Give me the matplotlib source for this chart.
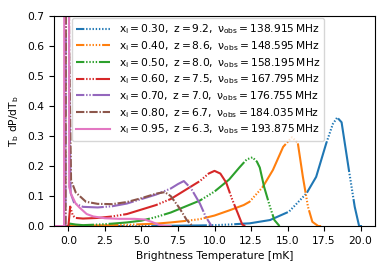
import numpy as np
import matplotlib
matplotlib.use('Agg')
from matplotlib import pyplot as plt
from matplotlib.lines import Line2D

# legend info
xi = ['0.30', '0.40', '0.50', '0.60', '0.70', '0.80', '0.95']
zz = ['9.2', '8.6', '8.0', '7.5', '7.0', '6.7', '6.3']
nu = ['138.915', '148.595', '158.195', '167.795', '176.755', '184.035', '193.875']

# curves (T_b in mK, T_b dP/dT_b)
T_030 = [0, 5, 7, 9, 10, 11, 12, 12.4, 13.8, 15.1, 16.3, 16.96, 17.65, 18.1, 18.4, 18.7, 19.2, 19.6, 19.9, 20.1]
P_030 = [0, 0, 0.001, 0.002, 0.003, 0.005, 0.008, 0.009, 0.02, 0.048, 0.109, 0.164, 0.276, 0.34, 0.362, 0.346, 0.187, 0.064, 0.0, 0.0]

T_040 = [0, 2, 4, 6, 7, 8, 9, 10, 11, 12, 12.4, 13.3, 14, 14.7, 15.3, 15.7, 16.05, 16.4, 16.7, 17.1, 17.3]
P_040 = [0, 0.002, 0.004, 0.008, 0.012, 0.017, 0.023, 0.035, 0.052, 0.07, 0.081, 0.13, 0.187, 0.264, 0.296, 0.278, 0.164, 0.064, 0.014, 0.0, 0.0]

T_050 = [-1, 0, 0.1, 0.5, 1, 2, 3, 4, 5, 6, 7, 8, 9, 10, 11, 11.7, 12.2, 12.6, 12.9, 13.1, 13.4, 13.8, 14.1, 14.45]
P_050 = [0, 0, 0.008, 0.005, 0.003, 0.005, 0.008, 0.012, 0.018, 0.03, 0.045, 0.065, 0.085, 0.115, 0.155, 0.195, 0.222, 0.229, 0.215, 0.195, 0.13, 0.064, 0.02, 0.0]

T_060 = [-1, 0, 0.12, 0.3, 0.5, 1, 2, 3, 4, 5, 6, 7, 8, 9, 9.6, 10, 10.4, 10.8, 11.2, 11.6, 11.9, 12.1]
P_060 = [0, 0, 0.065, 0.035, 0.027, 0.025, 0.027, 0.032, 0.04, 0.055, 0.07, 0.09, 0.12, 0.15, 0.175, 0.184, 0.175, 0.145, 0.09, 0.042, 0.005, 0.0]

T_070 = [-1, -0.2, -0.1, 0.05, 0.15, 0.4, 1, 2, 3, 4, 5, 6, 7, 7.5, 7.9, 8.4, 9.0, 9.4, 9.8]
P_070 = [0, 0, 3.0, 0.5, 0.11, 0.076, 0.064, 0.062, 0.066, 0.075, 0.09, 0.105, 0.125, 0.14, 0.15, 0.125, 0.075, 0.031, 0.0]

T_080 = [-1, -0.2, -0.1, 0.05, 0.18, 0.5, 1.2, 2, 3, 4, 5, 6, 6.6, 7.0, 7.6, 8.1, 8.5]
P_080 = [0, 0, 3.0, 0.6, 0.153, 0.112, 0.081, 0.074, 0.073, 0.08, 0.093, 0.108, 0.113, 0.1, 0.06, 0.02, 0.0]

T_095 = [-1, -0.3, -0.25, 0.0, 0.05, 0.2, 0.5, 0.75, 1.25, 1.7, 2.5, 3.5, 4.5, 5.2, 5.7, 6.2, 6.6, 7.0]
P_095 = [0, 0, 3.0, 3.0, 0.13, 0.105, 0.075, 0.062, 0.04, 0.032, 0.026, 0.024, 0.024, 0.022, 0.014, 0.004, 0.001, 0.0]

curves = [(T_030, P_030), (T_040, P_040), (T_050, P_050), (T_060, P_060),
          (T_070, P_070), (T_080, P_080), (T_095, P_095)]
colors = ['tab:blue', 'tab:orange', 'tab:green', 'tab:red', 'tab:purple', 'tab:brown', 'tab:pink']

# dash = long dash followed by n dots, in points
dash_len = [40, 36, 30, 26, 16, 6, None]
n_dots = [8, 5, 4, 3, 2, 1, 0]

plt.rcParams['font.size'] = 7.7
plt.rcParams['lines.scale_dashes'] = False

fig = plt.figure(figsize=(3.9, 2.73), dpi=100)
ax = fig.add_axes([0.138, 0.172, 0.824, 0.769])

handles = []
for i in range(7):
    T, P = curves[i]
    lab = r'$\mathrm{x_i = %s,\ z = %s,\ \nu_{obs} = %s\,MHz}$' % (xi[i], zz[i], nu[i])
    if dash_len[i] is None:
        ls = '-'
        ls_leg = '-'
    else:
        seq = (dash_len[i], 1.3) + (1.0, 1.3) * n_dots[i]
        ls = (0, seq)
        ls_leg = (max(dash_len[i] - 6, 0), seq)
    ax.plot(T, P, color=colors[i], lw=1.5, linestyle=ls)
    handles.append(Line2D([], [], color=colors[i], lw=1.5, linestyle=ls_leg, label=lab))

ax.set_xlim(-1, 21)
ax.set_ylim(0, 0.7)
ax.set_xticks(np.arange(0, 20.1, 2.5))
ax.set_yticks(np.arange(0, 0.71, 0.1))
ax.set_xlabel('Brightness Temperature [mK]')
ax.set_ylabel(r'$\mathrm{T_b\ dP/dT_b}$')
ax.legend(handles=handles, loc='upper left', bbox_to_anchor=(0.056, 0.99),
          borderaxespad=0, handlelength=3.2, fontsize=7.7, labelspacing=0.27)

fig.savefig('out.png', dpi=100)
